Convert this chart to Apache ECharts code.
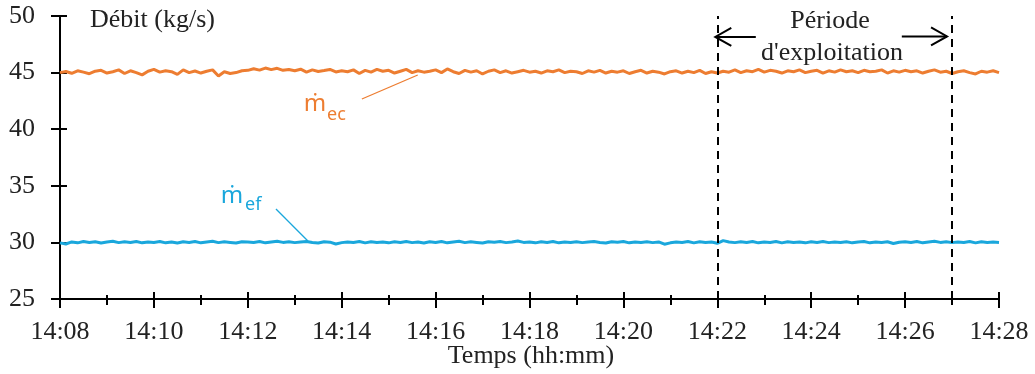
<!DOCTYPE html>
<html><head><meta charset="utf-8">
<script src="https://cdn.jsdelivr.net/npm/echarts@6/dist/echarts.min.js"></script>
<style>html,body{margin:0;padding:0;background:#fff}#c{width:1035px;height:374px}</style>
</head><body><div id="c"></div>
<script>
// Time axis: minutes after 14:08, sampled every 7.5 s
var sampleStep = 0.125;
var xTickLabels = ['14:08','14:10','14:12','14:14','14:16','14:18','14:20','14:22','14:24','14:26','14:28'];
var periodStart = 14; // 14:22
var periodEnd = 19;   // 14:27

var mec = [
45.00,45.10,44.94,45.16,45.04,44.90,45.12,45.20,
44.96,45.08,45.24,44.92,45.16,45.00,44.80,45.12,
45.28,45.04,45.16,45.08,44.84,45.24,45.00,45.14,
44.96,45.12,45.24,44.70,45.08,44.92,45.00,45.16,
45.20,45.34,45.22,45.40,45.26,45.38,45.20,45.28,
45.16,45.30,45.04,45.24,45.10,45.18,45.28,45.06,
45.16,45.08,45.24,44.92,45.20,45.04,45.28,45.12,
45.20,44.96,45.12,45.28,45.00,45.16,45.04,45.12,
45.24,45.00,45.32,45.08,44.92,45.20,45.04,45.16,
44.88,45.12,45.24,45.00,45.16,44.96,45.08,45.20,
45.04,45.12,44.96,45.16,45.08,45.24,45.00,45.12,
45.08,44.92,45.16,45.04,45.20,44.96,45.12,45.04,
45.16,44.92,45.08,45.20,44.96,45.12,45.04,44.88,
45.08,45.16,44.96,45.12,45.00,45.20,44.92,45.08,
44.96,45.12,45.04,45.24,45.00,45.16,45.08,45.28,
45.04,45.20,45.12,44.96,45.16,45.08,45.24,45.00,
45.12,45.20,44.96,45.16,45.04,45.24,45.08,45.16,
45.00,45.20,45.08,45.12,45.24,44.96,45.16,45.04,
45.20,45.08,45.16,44.96,45.12,45.24,45.04,45.12,
44.92,45.08,45.16,45.00,44.88,45.12,45.04,45.16,
45.00];

var mef = [
29.96,29.86,30.04,29.96,30.08,30.00,30.06,29.94,
30.04,30.10,29.98,30.06,30.00,30.08,29.96,30.04,
30.00,30.08,29.96,30.04,29.94,30.06,30.00,30.08,
29.96,30.04,30.10,29.98,30.06,30.00,29.94,30.06,
30.04,30.00,30.08,29.96,30.04,30.10,30.00,30.06,
29.98,30.04,30.08,30.00,29.94,30.06,30.02,29.86,
29.98,30.04,30.00,30.08,29.96,30.06,30.00,30.04,
29.96,30.06,30.00,30.08,29.98,30.04,29.94,30.06,
30.00,30.08,29.96,30.04,30.10,29.98,30.06,30.00,
29.94,30.06,30.02,30.08,29.98,30.04,30.12,30.00,
30.04,29.96,30.06,30.00,30.08,29.96,30.04,30.00,
30.06,29.98,30.04,30.08,30.00,29.94,30.06,30.02,
30.08,29.96,30.04,30.00,30.06,29.98,30.04,29.84,
29.96,30.04,30.00,30.08,29.96,30.06,30.00,30.04,
29.92,30.16,30.04,29.98,30.06,30.00,30.08,29.96,
30.04,30.00,30.08,29.96,30.06,30.00,30.04,29.96,
30.06,30.00,30.08,29.98,30.04,30.00,30.06,29.96,
30.04,30.08,29.96,30.04,30.00,30.06,29.90,30.02,
30.06,30.00,30.08,29.96,30.04,30.10,30.00,30.06,
29.98,30.04,30.00,30.08,29.96,30.06,30.00,30.04,
30.00];

var ORANGE = '#ED7D31', BLUE = '#1AA7DC';
var SERIF = "'Times New Roman','Liberation Serif',serif";
var SANS = "'Noto Sans','DejaVu Sans',sans-serif";
var FS = 26;

function pairs(arr){ return arr.map(function(v,i){ return [i*sampleStep, v]; }); }
function fmtX(v){ var i = Math.round(v/2); return xTickLabels[i] !== undefined ? xTickLabels[i] : ''; }

var chart = echarts.init(document.getElementById('c'), null, {renderer:'canvas'});
var axisBase = {type:'value', min:0, max:20, interval:2, position:'bottom'};
var option = {
  animation:false,
  grid:{left:60, right:36, top:16, bottom:75, containLabel:false},
  xAxis:[
    Object.assign({}, axisBase, {
      axisLine:{onZero:false, lineStyle:{color:'#000', width:2}},
      axisTick:{show:true, inside:false, length:9, lineStyle:{color:'#000', width:2}},
      minorTick:{show:true, splitNumber:2, length:6, lineStyle:{color:'#000', width:2}},
      axisLabel:{formatter:fmtX, color:'#222', fontFamily:SERIF, fontSize:FS, margin:20},
      splitLine:{show:false}
    }),
    Object.assign({}, axisBase, {
      axisLine:{show:false, onZero:false},
      axisTick:{show:true, inside:true, length:7, lineStyle:{color:'#000', width:2}},
      minorTick:{show:true, splitNumber:2, length:4, lineStyle:{color:'#000', width:2}},
      axisLabel:{show:false}, splitLine:{show:false}
    })
  ],
  yAxis:[
    {type:'value', min:25, max:50, interval:5, position:'left',
     axisLine:{show:true, onZero:false, lineStyle:{color:'#000', width:2}},
     axisTick:{show:true, inside:false, length:9, lineStyle:{color:'#000', width:2}},
     axisLabel:{color:'#222', fontFamily:SERIF, fontSize:FS, margin:25},
     splitLine:{show:false}},
    {type:'value', min:25, max:50, interval:5, position:'left',
     axisLine:{show:false, onZero:false},
     axisTick:{show:true, inside:true, length:7, lineStyle:{color:'#000', width:2}},
     axisLabel:{show:false}, splitLine:{show:false}}
  ],
  series:[
    {type:'line', name:'mec', data:pairs(mec), showSymbol:false, symbol:'none',
     lineStyle:{color:ORANGE, width:3}, itemStyle:{color:ORANGE},
     markLine:{silent:true, symbol:['none','none'], label:{show:false},
       lineStyle:{color:'#000', width:2, type:[8,6]},
       data:[{xAxis:periodStart},{xAxis:periodEnd}]}},
    {type:'line', name:'mef', data:pairs(mef), showSymbol:false, symbol:'none',
     lineStyle:{color:BLUE, width:3}, itemStyle:{color:BLUE}}
  ]
};
chart.setOption(option);

function P(x,y){ return chart.convertToPixel({seriesIndex:0}, [x,y]); }
var aL0 = P(periodStart, 48.15), aL1 = P(14.82, 48.15);
var aR0 = P(17.93, 48.2), aR1 = P(periodEnd, 48.2);
var lt = aL0[0]-2, rt = aR1[0]-5;
var ec1 = P(6.43, 42.67), ec2 = P(7.62, 44.79);
var ef1 = P(4.6, 32.95), ef2 = P(5.28, 30.12);
chart.setOption({graphic:[
  {type:'text', id:'t1', x:90, y:20, style:{text:'Débit (kg/s)', font:FS+'px '+SERIF, fill:'#222', align:'left', verticalAlign:'middle'}},
  {type:'text', id:'t2', x:531, y:356, style:{text:'Temps (hh:mm)', font:FS+'px '+SERIF, fill:'#222', align:'center', verticalAlign:'middle'}},
  {type:'text', id:'t3', x:830, y:21, style:{text:'Période', font:FS+'px '+SERIF, fill:'#222', align:'center', verticalAlign:'middle'}},
  {type:'text', id:'t4', x:832, y:53, style:{text:"d'exploitation", font:FS+'px '+SERIF, fill:'#222', align:'center', verticalAlign:'middle'}},
  {type:'line', id:'a1', shape:{x1:lt, y1:aL0[1], x2:aL1[0], y2:aL1[1]}, style:{stroke:'#000', lineWidth:2}},
  {type:'polyline', id:'a2', shape:{points:[[lt+16,aL0[1]-9],[lt,aL0[1]],[lt+16,aL0[1]+9]]}, style:{stroke:'#000', lineWidth:2, fill:null}},
  {type:'line', id:'a3', shape:{x1:aR0[0], y1:aR0[1], x2:rt, y2:aR1[1]}, style:{stroke:'#000', lineWidth:2}},
  {type:'polyline', id:'a4', shape:{points:[[rt-16,aR1[1]-9],[rt,aR1[1]],[rt-16,aR1[1]+9]]}, style:{stroke:'#000', lineWidth:2, fill:null}},
  {type:'line', id:'l1', shape:{x1:ec1[0], y1:ec1[1], x2:ec2[0], y2:ec2[1]}, style:{stroke:ORANGE, lineWidth:1.3}},
  {type:'line', id:'l2', shape:{x1:ef1[0], y1:ef1[1], x2:ef2[0], y2:ef2[1]}, style:{stroke:BLUE, lineWidth:1.3}},
  {type:'text', id:'m1', x:315, y:104, style:{text:'ṁ', font:'24px '+SANS, fill:ORANGE, align:'center', verticalAlign:'middle'}},
  {type:'text', id:'s1', x:327, y:115, style:{text:'ec', font:'18px '+SANS, fill:ORANGE, align:'left', verticalAlign:'middle'}},
  {type:'text', id:'m2', x:232, y:196, style:{text:'ṁ', font:'24px '+SANS, fill:BLUE, align:'center', verticalAlign:'middle'}},
  {type:'text', id:'s2', x:245, y:205, style:{text:'ef', font:'18px '+SANS, fill:BLUE, align:'left', verticalAlign:'middle'}}
]});
</script>
</body></html>
